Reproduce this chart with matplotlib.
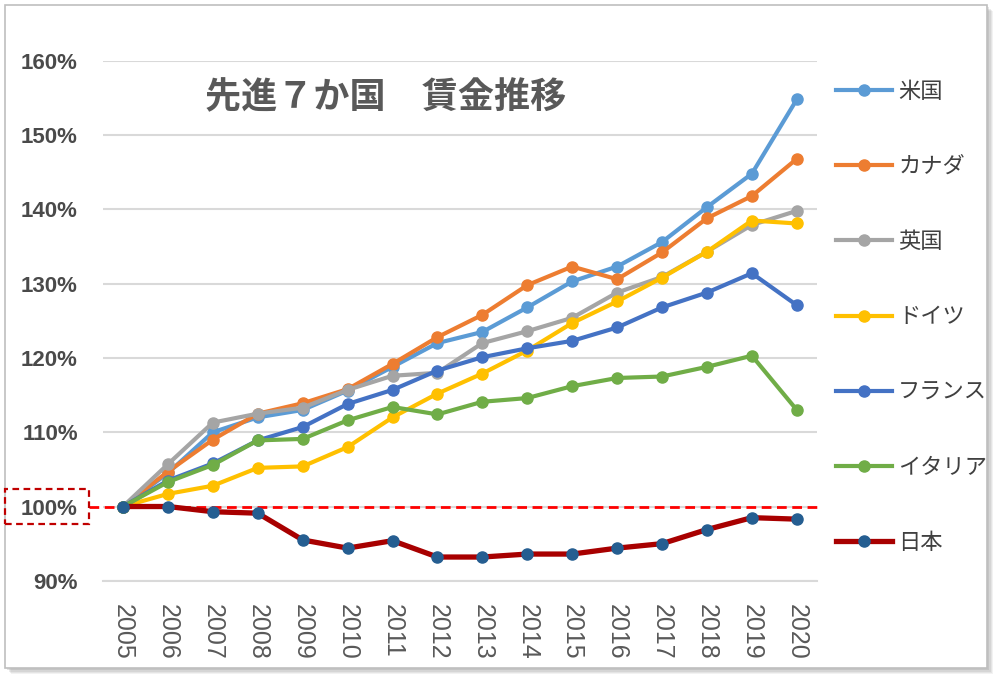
import numpy as np
import matplotlib
matplotlib.use("Agg")
import matplotlib.pyplot as plt
from matplotlib.patches import Rectangle
from matplotlib.ticker import FuncFormatter

plt.rcParams['font.family'] = ['Noto Sans CJK JP', 'DejaVu Sans']

years = [str(y) for y in range(2005, 2021)]
names = ['米国', 'カナダ', '英国', 'ドイツ', 'フランス', 'イタリア', '日本']
usa = [100, 104.5, 110.0, 112.0, 113.0, 115.6, 118.8, 122.0, 123.5, 126.8, 130.3, 132.3, 135.6, 140.3, 144.8, 154.8]
canada = [100, 104.7, 109.0, 112.5, 113.9, 115.8, 119.2, 122.8, 125.8, 129.8, 132.3, 130.6, 134.2, 138.8, 141.8, 146.8]
uk = [100, 105.7, 111.3, 112.5, 113.3, 115.7, 117.6, 118.0, 122.0, 123.6, 125.4, 128.8, 130.9, 134.3, 137.9, 139.8]
germany = [100, 101.7, 102.8, 105.2, 105.4, 108.0, 112.0, 115.2, 117.9, 121.0, 124.7, 127.6, 130.8, 134.3, 138.5, 138.1]
france = [100, 103.5, 105.8, 108.9, 110.7, 113.8, 115.7, 118.3, 120.1, 121.3, 122.3, 124.1, 126.8, 128.8, 131.4, 127.1]
italy = [100, 103.3, 105.6, 108.9, 109.1, 111.6, 113.4, 112.4, 114.1, 114.6, 116.2, 117.3, 117.5, 118.8, 120.3, 113.0]
japan = [100, 100.0, 99.3, 99.1, 95.5, 94.4, 95.4, 93.2, 93.2, 93.6, 93.6, 94.4, 95.0, 96.9, 98.5, 98.3]

series = [usa, canada, uk, germany, france, italy, japan]
line_colors = ['#5B9BD5', '#ED7D31', '#A5A5A5', '#FFC000', '#4472C4', '#70AD47', '#A80000']
marker_colors = ['#5B9BD5', '#ED7D31', '#A5A5A5', '#FFC000', '#4472C4', '#70AD47', '#255E91']
line_widths = [3.0, 3.0, 3.0, 3.0, 3.0, 3.0, 3.8]

W, H = 1001, 682
fig = plt.figure(figsize=(W / 100, H / 100), dpi=100)

def px(x, y):
    return x / W, 1 - y / H

# frame with soft shadow
for i, a in enumerate([0.10, 0.12, 0.15, 0.2]):
    off = 6 - i * 1.2
    x0, y0 = px(5 + off, 668 + off)
    x1, y1 = px(987 + off, 5 + off)
    fig.add_artist(Rectangle((x0, y0), x1 - x0, y1 - y0, transform=fig.transFigure,
                             facecolor='#808080', edgecolor='none', alpha=a, zorder=-3))
x0, y0 = px(5, 668)
x1, y1 = px(987, 5)
fig.add_artist(Rectangle((x0, y0), x1 - x0, y1 - y0, transform=fig.transFigure,
                         facecolor='white', edgecolor='#BFBFBF', lw=1.2, zorder=-2))

ax = fig.add_axes([102.8 / W, 1 - 580.8 / H, (817 - 102.8) / W, (580.8 - 60.8) / H])
ax.set_facecolor('none')

x = np.arange(len(years))
for vals, name, lc, mc, lw in zip(series, names, line_colors, marker_colors, line_widths):
    ax.plot(x, vals, color=lc, lw=lw, marker='o', ms=8, mfc=mc, mec=mc,
            label=name, zorder=3, solid_joinstyle='round')

ax.axhline(100, xmin=-0.02, xmax=1.0, color='#FF0000', lw=2, ls=(0, (3.5, 2)),
           clip_on=False, zorder=2.5)

ax.set_xlim(-0.45, len(years) - 0.55)
ax.set_ylim(90, 160)
ax.set_yticks(range(90, 161, 10))
ax.yaxis.set_major_formatter(FuncFormatter(lambda v, p: f'{v:.0f}%'))
ax.grid(axis='y', color='#D9D9D9', lw=1.5, zorder=1)
ax.set_axisbelow(True)
for s in ['top', 'right', 'left']:
    ax.spines[s].set_visible(False)
ax.spines['bottom'].set_color('#D9D9D9')
ax.spines['bottom'].set_linewidth(1.5)

ax.set_xticks(x)
ax.set_xticklabels(years, rotation=-90, fontsize=18, color='#595959',
                   family=['Liberation Sans', 'DejaVu Sans'])
ax.tick_params(axis='x', length=0, pad=17)
ax.tick_params(axis='y', length=0, pad=18, labelsize=16, labelcolor='#4A4A4A')
for t in ax.get_yticklabels():
    t.set_family(['Liberation Sans', 'DejaVu Sans'])
    t.set_fontweight('bold')

# dashed box around 100% label
bx0, by0 = px(5, 524)
bx1, by1 = px(89, 489)
fig.add_artist(Rectangle((bx0, by0), bx1 - bx0, by1 - by0, transform=fig.transFigure,
                         facecolor='none', edgecolor='#C00000', lw=1.6, ls=(0, (3, 2)), zorder=5))

tx, ty = px(205, 98)
fig.text(tx, ty, '先進７か国　賃金推移', fontsize=26, fontweight='bold', color='#595959',
         ha='left', va='center')

lx, ly = px(836, 317)
leg = fig.legend(loc='center left', bbox_to_anchor=(lx, ly), frameon=False,
                 fontsize=16, labelspacing=2.35, handlelength=2.5, handletextpad=0.3,
                 borderpad=0, borderaxespad=0)
for t in leg.get_texts():
    t.set_color('#404040')

fig.savefig('out.png', dpi=100)
